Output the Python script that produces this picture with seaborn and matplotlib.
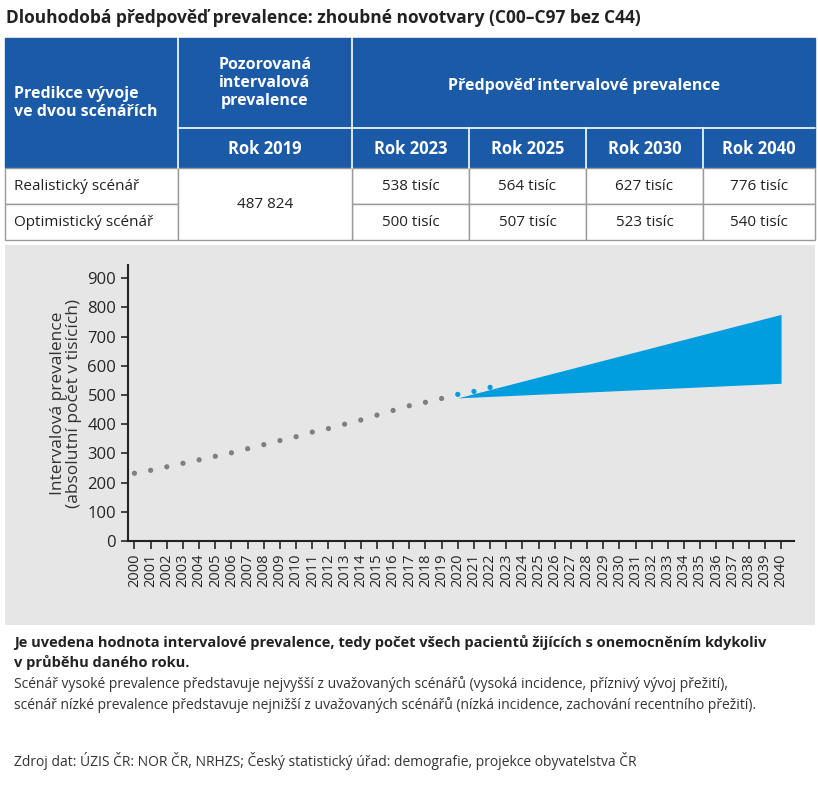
import matplotlib
matplotlib.use('Agg')
import matplotlib.pyplot as plt
from matplotlib.patches import Rectangle
import seaborn as sns

# observed values (thousands), 2000-2019
obs_years = list(range(2000, 2020))
obs_vals = [232, 242, 254, 266, 278, 290, 302, 316, 330, 344,
            357, 373, 385, 400, 414, 431, 447, 463, 475, 488]
# early projection points 2020-2022
early_years = [2020, 2021, 2022]
early_vals = [502, 512, 526]
# scenario band
band_years = [2020, 2040]
band_low = [490, 540]
band_high = [490, 776]

col_years = ['Rok 2019', 'Rok 2023', 'Rok 2025', 'Rok 2030', 'Rok 2040']
realistic = ['538 tisíc', '564 tisíc', '627 tisíc', '776 tisíc']
optimistic = ['500 tisíc', '507 tisíc', '523 tisíc', '540 tisíc']
observed_2019 = '487 824'

sns.set_style('white')
plt.rcParams['font.family'] = ['Open Sans', 'DejaVu Sans']

W, H = 818, 800
fig = plt.figure(figsize=(W / 100, H / 100), dpi=100)
blue = '#1b5aa6'
txt = '#222222'

def fx(x): return x / W
def fy(y): return 1 - y / H

fig.text(fx(6), fy(18), 'Dlouhodobá předpověď prevalence: zhoubné novotvary (C00–C97 bez C44)',
         fontsize=12.5, fontweight='bold', va='center', color=txt)

# table
xs = [5, 178, 352, 469, 586, 703, 815]
def cell(x0, y0, x1, y1, fc, ec, z=1):
    fig.add_artist(Rectangle((fx(x0), fy(y1)), fx(x1 - x0), (y1 - y0) / H,
                             transform=fig.transFigure, fc=fc, ec=ec, lw=1, zorder=z))
# header
cell(5, 38, 815, 168, blue, blue)
lw = dict(color='white', lw=1.2, transform=fig.transFigure, zorder=2)
fig.add_artist(plt.Line2D([fx(178), fx(178)], [fy(38), fy(168)], **lw))
fig.add_artist(plt.Line2D([fx(352), fx(352)], [fy(38), fy(168)], **lw))
fig.add_artist(plt.Line2D([fx(178), fx(815)], [fy(128), fy(128)], **lw))
for i in range(3, 6):
    fig.add_artist(plt.Line2D([fx(xs[i]), fx(xs[i])], [fy(128), fy(168)], **lw))
hk = dict(color='white', fontweight='bold', ha='center', va='center')
fig.text(fx(14), fy(103), 'Predikce vývoje\nve dvou scénářích', color='white', fontweight='bold',
         fontsize=11.5, ha='left', va='center', linespacing=1.2)
fig.text(fx(265), fy(83), 'Pozorovaná\nintervalová\nprevalence', linespacing=1.2, fontsize=11.5, **hk)
fig.text(fx(584), fy(86), 'Předpověď intervalové prevalence', fontsize=11.5, **hk)
for i, lab in enumerate(col_years):
    fig.text(fx((xs[i + 1] + xs[i + 2]) / 2), fy(149), lab, fontsize=12, **hk)
# body
ec = '#9a9a9a'
for i in range(6):
    if i == 1:
        continue
    for (y0, y1) in [(168, 204), (204, 240)]:
        cell(xs[i], y0, xs[i + 1], y1, 'white', ec)
cell(178, 168, 352, 240, 'white', ec)
bk = dict(color=txt, fontsize=11, va='center')
fig.text(fx(14), fy(186), 'Realistický scénář', **bk)
fig.text(fx(14), fy(222), 'Optimistický scénář', **bk)
fig.text(fx(265), fy(204), observed_2019, ha='center', **bk)
for i in range(4):
    cx = (xs[i + 2] + xs[i + 3]) / 2
    fig.text(fx(cx), fy(186), realistic[i], ha='center', **bk)
    fig.text(fx(cx), fy(222), optimistic[i], ha='center', **bk)

# grey panel behind the chart
fig.patch.set_facecolor('white')
panel = Rectangle((fx(5), fy(625)), fx(810), 380 / H, transform=fig.transFigure,
                  fc='#e6e6e6', ec='none', zorder=-5)
fig.add_artist(panel)

ax = fig.add_axes([fx(128), fy(541), fx(666), (541 - 265) / H])
ax.set_zorder(5)
ax.patch.set_alpha(0)
sns.scatterplot(x=obs_years, y=obs_vals, ax=ax, color='#7f7f7f', s=14, edgecolor='none')
sns.scatterplot(x=early_years, y=early_vals, ax=ax, color='#0a9ad9', s=14, edgecolor='none')
ax.fill_between(band_years, band_low, band_high, color='#009ddf', lw=0)
ax.set_xlim(1999.6, 2040.8)
ax.set_ylim(0, 945)
ax.set_yticks(range(0, 901, 100))
ax.set_xticks(range(2000, 2041))
ax.set_xticklabels([str(y) for y in range(2000, 2041)], rotation=90, fontsize=10.5)
ax.tick_params(axis='y', labelsize=12, length=5, direction='out', width=1.2, left=True)
ax.tick_params(axis='x', length=6, direction='out', width=1.2, pad=3, bottom=True)
for s in ['top', 'right']:
    ax.spines[s].set_visible(False)
for s in ['left', 'bottom']:
    ax.spines[s].set_color('#222222')
    ax.spines[s].set_linewidth(1.5)
ax.set_ylabel('Intervalová prevalence\n(absolutní počet v tisících)', fontsize=12.5, color='#333333',
              linespacing=1.0)

fig.text(fx(14), fy(642), 'Je uvedena hodnota intervalové prevalence, tedy počet všech pacientů žijících s onemocněním kdykoliv',
         fontsize=10.5, fontweight='bold', color=txt, va='center')
fig.text(fx(14), fy(663), 'v průběhu daného roku.', fontsize=10.5, fontweight='bold', color=txt, va='center')
fig.text(fx(14), fy(684), 'Scénář vysoké prevalence představuje nejvyšší z uvažovaných scénářů (vysoká incidence, příznivý vývoj přežití),',
         fontsize=10, color='#333333', va='center')
fig.text(fx(14), fy(705), 'scénář nízké prevalence představuje nejnižší z uvažovaných scénářů (nízká incidence, zachování recentního přežití).',
         fontsize=10, color='#333333', va='center')
fig.text(fx(14), fy(761), 'Zdroj dat: ÚZIS ČR: NOR ČR, NRHZS; Český statistický úřad: demografie, projekce obyvatelstva ČR',
         fontsize=10, color='#333333', va='center')

fig.savefig('out.png', dpi=100)
